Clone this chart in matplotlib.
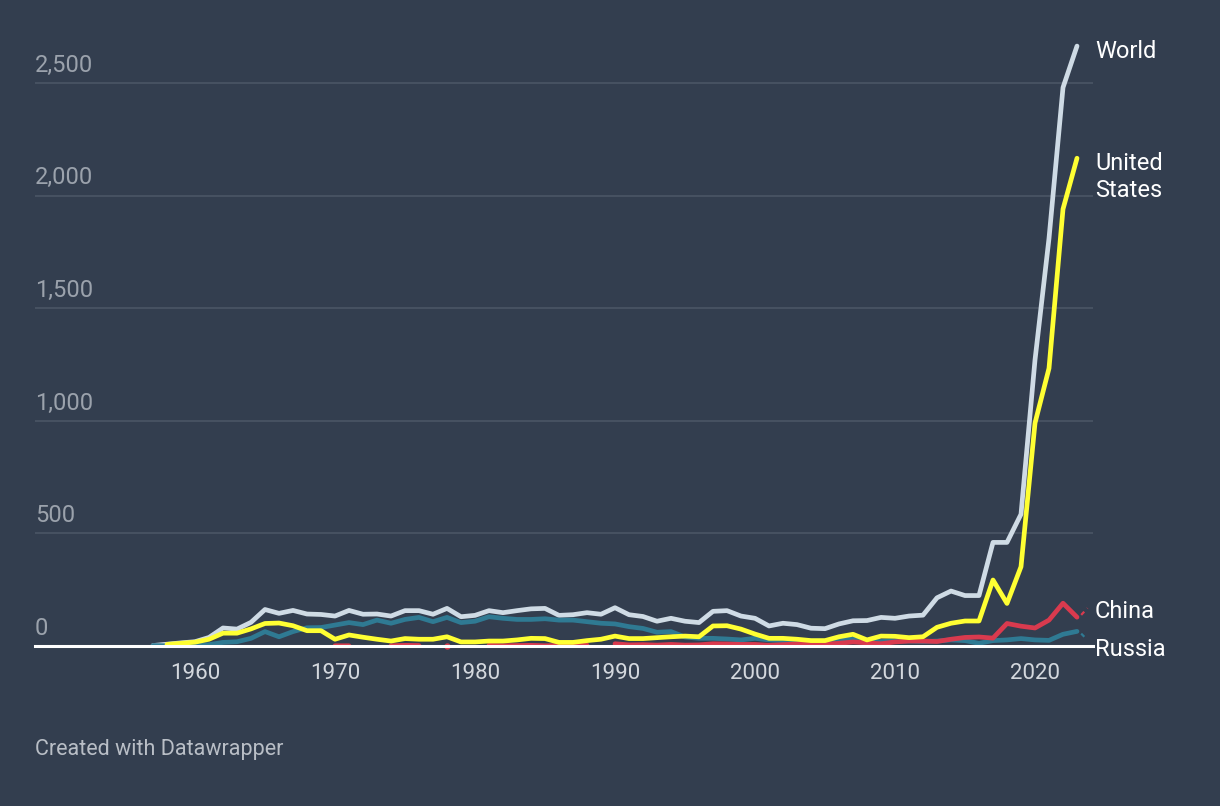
import numpy as np
import matplotlib
matplotlib.use("Agg")
import matplotlib.pyplot as plt

nan = np.nan
years = list(range(1957, 2024))

world = [2, 8, 14, 19, 38, 80, 75, 105, 162, 145, 158, 142, 140,
         133, 158, 141, 142, 133, 157, 157, 141, 167, 130,
         136, 157, 148, 157, 165, 167, 136, 139, 148, 141,
         170, 139, 131, 110, 123, 110, 104, 154, 157, 133,
         123, 89, 101, 95, 79, 77, 98, 112, 113, 127,
         123, 133, 137, 214, 244, 224, 224, 460, 460, 585,
         1270, 1810, 2480, 2664]

united_states = [nan, 7, 12, 17, 30, 57, 57, 76, 100, 102, 90, 68, 68,
                 30, 49, 39, 30, 22, 33, 30, 30, 41, 18,
                 18, 22, 22, 27, 34, 33, 16, 16, 24, 30,
                 44, 33, 33, 37, 41, 44, 41, 89, 90, 75,
                 53, 34, 34, 30, 24, 24, 41, 52, 27, 44,
                 43, 37, 41, 83, 101, 111, 111, 293, 189, 352,
                 990, 1233, 1940, 2166]

russia = [2, 1, 3, 3, 6, 16, 19, 34, 64, 41, 64, 81, 82,
          93, 104, 95, 115, 101, 118, 127, 108, 127, 104,
          110, 130, 123, 118, 118, 121, 115, 115, 108, 101,
          98, 86, 78, 61, 64, 40, 34, 34, 31, 27,
          34, 27, 24, 22, 22, 22, 27, 30, 20, 20,
          22, 22, 20, 22, 27, 24, 12, 24, 27, 33,
          27, 25, 52, 65]

china = [nan, nan, nan, nan, nan, nan, nan, nan, nan, nan, nan, nan, nan,
         1, 1, nan, nan, 1, 3, 2, nan, 1, nan,
         nan, 3, 1, 2, 3, 1, 2, 2, 4, nan,
         10, 5, 6, 4, 7, 4, 5, 10, 9, 7,
         7, 3, 6, 9, 11, 8, 12, 18, 14, 10,
         18, 22, 22, 20, 30, 38, 40, 35, 100, 88,
         80, 115, 190, 128]

y_ticks = [0, 500, 1000, 1500, 2000, 2500]
y_tick_labels = ["0", "500", "1,000", "1,500", "2,000", "2,500"]
x_ticks = [1960, 1970, 1980, 1990, 2000, 2010, 2020]

series = [
    ("World", world, "#cfdbe5", 2),
    ("Russia", russia, "#2f7a93", 3),
    ("China", china, "#d93a4e", 4),
    ("United States", united_states, "#ffff33", 5),
]

BG = "#333e4f"
plt.rcParams['font.family'] = ['Roboto', 'DejaVu Sans']

W, H = 1220, 806
fig = plt.figure(figsize=(W / 100, H / 100), dpi=100, facecolor=BG)

px_left, px_right = 35, 1093
px_zero, px_top = 646, 30
unit_per_px = 2500 / (646 - 83)
x_per_px = 1 / 14.0

ax = fig.add_axes([px_left / W, 1 - px_zero / H,
                   (px_right - px_left) / W, (px_zero - px_top) / H])
ax.set_facecolor(BG)
ax.set_xlim(1957 - (153 - px_left) * x_per_px, 1957 + (px_right - 153) * x_per_px)
ax.set_ylim(0, (px_zero - px_top) * unit_per_px)
for s in ax.spines.values():
    s.set_visible(False)
ax.set_xticks([])
ax.set_yticks([])

# grid lines
for v in y_ticks[1:]:
    ax.axhline(v, color="#4b5565", lw=1.2, zorder=1)
ax.axhline(0, color="white", lw=2.2, zorder=10, clip_on=False)

# y tick labels
for v, lab in zip(y_ticks, y_tick_labels):
    ax.annotate(lab, xy=(0, v), xycoords=("axes fraction", "data"),
                xytext=(0, 4.5), textcoords="offset points",
                ha="left", va="bottom", fontsize=17, color="#9ba2ac")

# x tick labels
for yr in x_ticks:
    ax.annotate(str(yr), xy=(yr, 0), xycoords="data",
                xytext=(0, -12), textcoords="offset points",
                ha="center", va="top", fontsize=16, color="#d4d8de")

yrs = np.array(years, dtype=float)
for name, vals, col, z in series:
    v = np.array(vals, dtype=float)
    ax.plot(yrs, v, color=col, lw=3.4, solid_capstyle="round",
            solid_joinstyle="round", zorder=z, clip_on=False)
    # isolated points
    for i in range(len(v)):
        if np.isnan(v[i]):
            continue
        left = i == 0 or np.isnan(v[i - 1])
        right = i == len(v) - 1 or np.isnan(v[i + 1])
        if left and right:
            ax.plot([yrs[i]], [v[i]], "o", ms=4.6, color=col, zorder=z,
                    clip_on=False, markeredgewidth=0)

# label connectors (China, Russia)
ax.plot([2023.3, 2023.75], [china[-1] + 10, china[-1] + 40], color="#d93a4e",
        lw=1.6, ls=(0, (2, 2)), zorder=6, clip_on=False)
ax.plot([2023.3, 2023.7], [russia[-1] - 10, russia[-1] - 35], color="#2f7a93",
        lw=1.6, ls=(0, (2, 2)), zorder=6, clip_on=False)

# end labels
lab_kw = dict(ha="left", va="center", fontsize=17, color="white",
              transform=fig.transFigure)
fig.text(1095 / W, 1 - 51 / H, "World", **lab_kw)
fig.text(1095 / W, 1 - 177 / H, "United\nStates", linespacing=1.2, **lab_kw)
fig.text(1095 / W, 1 - 611 / H, "China", **lab_kw)
fig.text(1095 / W, 1 - 649 / H, "Russia", **lab_kw)

fig.text(35 / W, 1 - 749 / H, "Created with Datawrapper", ha="left", va="center",
         fontsize=15.5, color="#b9bec6")

fig.savefig("out.png", dpi=100, facecolor=BG)
